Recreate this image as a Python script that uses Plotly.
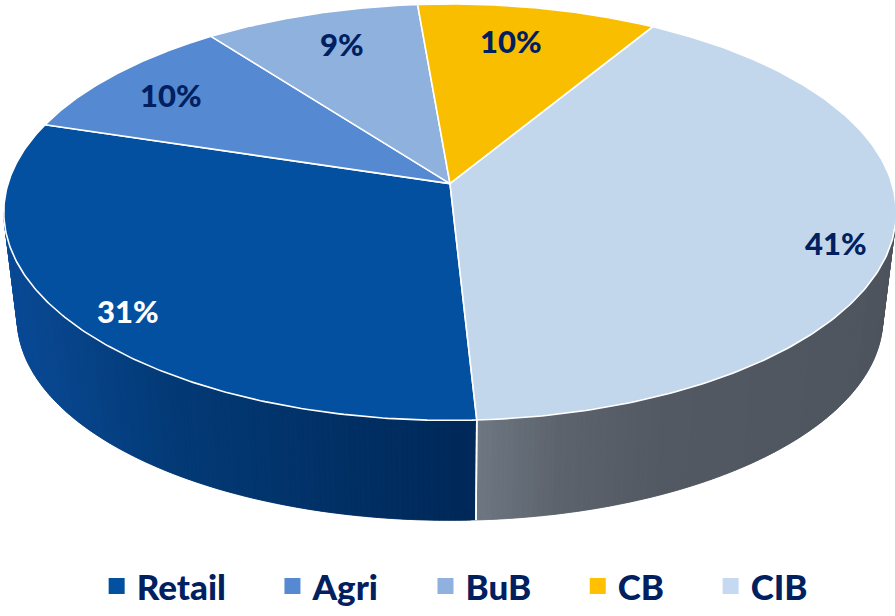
import numpy as np
import plotly.graph_objects as go

# ---- data -------------------------------------------------------------
segments = ["Retail", "Agri", "BuB", "CB", "CIB"]
shares = [31, 10, 9, 10, 41]
share_labels = ["31%", "10%", "9%", "10%", "41%"]

# ---- styling ----------------------------------------------------------
top_colors = ["#0350A0", "#5589D1", "#8EB1DE", "#F9BE00", "#C3D7EC"]
legend_colors = ["#0350A0", "#5589D1", "#8EB1DE", "#FFC000", "#C5D9F0"]
label_colors = ["#FFFFFF", "#002060", "#002060", "#002060", "#002060"]
# label placement inside each slice: share of the slice's sweep, radius fraction
label_sweep = [0.474, 0.475, 0.536, 0.447, 0.53]
label_radius = [0.884, 0.814, 0.80, 0.79, 0.885]
# side wall shading: (fraction across the visible wall, rgb)
wall_shades = [
    [(0.0, (10, 74, 150)), (0.35, (3, 58, 118)), (1.0, (0, 40, 88))],
    [(0.0, (40, 80, 150)), (1.0, (20, 50, 110))],
    [(0.0, (70, 100, 150)), (1.0, (50, 80, 130))],
    [(0.0, (180, 140, 0)), (1.0, (150, 110, 0))],
    [(0.0, (110, 119, 130)), (0.2, (92, 99, 109)), (0.45, (83, 89, 99)), (1.0, (78, 85, 94))],
]
TEXT_NAVY = "#002060"
FONT = "Lato"
WEIGHT = 900

W, H = 895, 616
CX, CY = 450, 187          # apex of the pie on screen
RX, RY = 442, 208          # radii of the top face
PERSP = 0.137              # perspective foreshortening
DEPTH = 109                # thickness of the disc
BASE_SCALE = 0.97          # bottom face appears slightly smaller
START = 177.0              # first slice starts here (deg, clockwise from back)


def project(theta_deg, r=1.0, level=0):
    t = np.radians(theta_deg)
    a = r * np.sin(t)
    b = r * np.cos(t)
    s = 1.0 if level == 0 else BASE_SCALE
    den = 1 + PERSP * b
    x = CX + s * RX * a / den
    y = CY + level * DEPTH - s * RY * b / den
    return x, y


def shade(stops, f):
    f = min(max(f, 0.0), 1.0)
    for (f0, c0), (f1, c1) in zip(stops[:-1], stops[1:]):
        if f <= f1:
            t = 0 if f1 == f0 else (f - f0) / (f1 - f0)
            c = [round(c0[i] + (c1[i] - c0[i]) * t) for i in range(3)]
            return "rgb(%d,%d,%d)" % tuple(c)
    return "rgb(%d,%d,%d)" % stops[-1][1]


total = float(sum(shares))
bounds = [START]
for v in shares:
    bounds.append(bounds[-1] + 360.0 * v / total)

# front (visible) part of the rim
edge = np.degrees(np.arccos(-PERSP))
windows = [(edge, 360 - edge), (edge + 360, 720 - edge)]

fig = go.Figure()

# ---- side walls -------------------------------------------------------
wall_boundaries = []
for i in range(len(segments)):
    t1, t2 = bounds[i], bounds[i + 1]
    for w1, w2 in windows:
        a, b = max(t1, w1), min(t2, w2)
        if b <= a:
            continue
        xs_top = [project(t)[0] for t in (a, b)]
        xmin, xmax = min(xs_top), max(xs_top)
        n = max(4, int((b - a) / 0.6))
        steps = np.linspace(a, b, n + 1)
        for k in range(n):
            ta, tb = steps[k], steps[min(k + 2, n)]   # slight overlap hides seams
            arc = np.linspace(ta, tb, 4)
            tx, ty = project(arc)
            bx, by = project(arc[::-1], level=1)
            px = np.concatenate([tx, bx, tx[:1]])
            py = np.concatenate([ty, by, ty[:1]])
            xm = project((steps[k] + steps[k + 1]) / 2)[0]
            col = shade(wall_shades[i], (xm - xmin) / (xmax - xmin))
            fig.add_trace(go.Scatter(
                x=px, y=py, mode="lines", fill="toself", fillcolor=col,
                line=dict(color=col, width=0.5), hoverinfo="skip", showlegend=False))
        for t in (t1, t2):
            if a <= t <= b and w1 < t < w2:
                wall_boundaries.append(t)

for t in sorted(set(wall_boundaries)):
    x0, y0 = project(t)
    x1, y1 = project(t, level=1)
    fig.add_trace(go.Scatter(
        x=[x0, x1], y=[y0, y1], mode="lines", line=dict(color="white", width=1.6),
        hoverinfo="skip", showlegend=False))

# ---- top faces --------------------------------------------------------
for i in range(len(segments)):
    arc = np.linspace(bounds[i], bounds[i + 1], 200)
    ax, ay = project(arc)
    px = np.concatenate([[CX], ax, [CX]])
    py = np.concatenate([[CY], ay, [CY]])
    fig.add_trace(go.Scatter(
        x=px, y=py, mode="lines", fill="toself", fillcolor=top_colors[i],
        line=dict(color="white", width=1.6), hoverinfo="skip", showlegend=False,
        name=segments[i]))

# ---- value labels -----------------------------------------------------
for i in range(len(segments)):
    ang = bounds[i] + label_sweep[i] * (bounds[i + 1] - bounds[i])
    lx, ly = project(ang, r=label_radius[i])
    fig.add_annotation(
        x=lx, y=ly, text=share_labels[i], showarrow=False,
        font=dict(family=FONT, size=31, color=label_colors[i], weight=WEIGHT))

# ---- legend entries ---------------------------------------------------
pad = "\u00a0" * 5
for i in range(len(segments)):
    nm = segments[i] + (pad if i < len(segments) - 1 else "")
    fig.add_trace(go.Scatter(
        x=[None], y=[None], mode="markers", name=nm,
        marker=dict(symbol="square", size=16, color=legend_colors[i]),
        showlegend=True))

fig.update_layout(
    width=W, height=H,
    margin=dict(l=0, r=0, t=0, b=0),
    paper_bgcolor="white", plot_bgcolor="white",
    xaxis=dict(range=[0, W], visible=False, fixedrange=True),
    yaxis=dict(range=[H, 0], visible=False, fixedrange=True),
    showlegend=True,
    legend=dict(
        orientation="h", x=0.508, xanchor="center", y=1 - 597 / H, yanchor="middle",
        font=dict(family=FONT, size=35, color=TEXT_NAVY, weight=WEIGHT),
        bgcolor="rgba(0,0,0,0)"),
)

fig.write_html("out.html")
